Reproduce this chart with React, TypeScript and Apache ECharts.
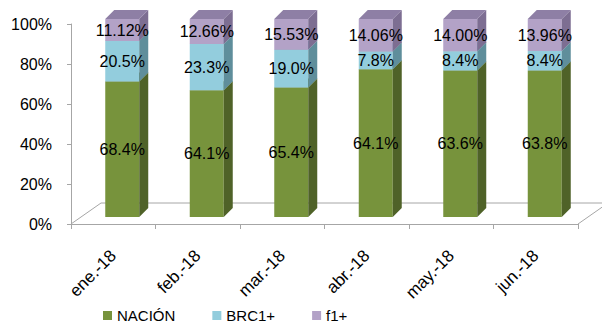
import React, { useEffect, useRef } from "react";
import * as echarts from "echarts";

const months = ["ene.-18", "feb.-18", "mar.-18", "abr.-18", "may.-18", "jun.-18"];
const nacion = [68.4, 64.1, 65.4, 64.1, 63.6, 63.8];
const brc1 = [20.5, 23.3, 19.0, 7.8, 8.4, 8.4];
const f1 = [11.12, 12.66, 15.53, 14.06, 14.0, 13.96];
const yTicks = [0, 20, 40, 60, 80, 100];

const seriesDefs = [
  { name: "NACIÓN", values: nacion, decimals: 1, front: "#77933C", side: "#4F6228", top: "#5F7A2E" },
  { name: "BRC1+", values: brc1, decimals: 1, front: "#93CDDD", side: "#5F8E9B", top: "#76A9B8" },
  { name: "f1+", values: f1, decimals: 2, front: "#B3A2C7", side: "#7D6E92", top: "#8E7FA5" },
];

const FONT = '"Liberation Sans", Arial, sans-serif';

export default function App() {
  const ref = useRef<HTMLDivElement>(null);
  useEffect(() => {
    if (!ref.current) return;
    const chart = echarts.init(ref.current, null, { renderer: "svg" });
    const totals = months.map((_, i) => seriesDefs.reduce((s, d) => s + d.values[i], 0));
    const cum = months.map(() => 0);
    const series: any[] = seriesDefs.map((def, si) => {
      const data = months.map((_, i) => {
        const pct = (def.values[i] / totals[i]) * 100;
        const start = cum[i];
        cum[i] += pct;
        return [i, start, cum[i], def.values[i].toFixed(def.decimals) + "%"];
      });
      return {
        type: "custom",
        name: def.name,
        xAxisIndex: 1,
        yAxisIndex: 1,
        itemStyle: { color: def.front },
        z: 3 + si,
        data,
        renderItem: (params: any, api: any) => {
          const ci = api.value(0);
          const s = api.value(1);
          const e = api.value(2);
          const label = data[params.dataIndex][3] as string;
          const p0 = api.coord([ci, s]);
          const p1 = api.coord([ci, e]);
          const hw = 17;
          const d = 9;
          const x0 = p0[0] - hw;
          const x1 = p0[0] + hw;
          const yb = p0[1];
          const yt = p1[1];
          return {
            type: "group",
            children: [
              { type: "rect", shape: { x: x0, y: yt, width: hw * 2, height: yb - yt }, style: { fill: def.front } },
              {
                type: "polygon",
                shape: { points: [[x1, yb], [x1 + d, yb - d], [x1 + d, yt - d], [x1, yt]] },
                style: { fill: def.side },
              },
              {
                type: "polygon",
                shape: { points: [[x0, yt], [x1, yt], [x1 + d, yt - d], [x0 + d, yt - d]] },
                style: { fill: def.top },
              },
              {
                type: "text",
                x: p0[0],
                y: (yb + yt) / 2,
                style: {
                  text: label,
                  align: "center",
                  verticalAlign: "middle",
                  fill: "#000",
                  font: `16px ${FONT}`,
                },
              },
            ],
          };
        },
      };
    });

    const lineColor = "#A6A6A6";
    chart.setOption({
      animation: false,
      grid: [
        { left: 71, right: 24, top: 24, height: 200 },
        { left: 80, right: 15, top: 19, height: 198 },
      ],
      xAxis: [
        {
          gridIndex: 0,
          type: "category",
          data: months,
          boundaryGap: true,
          axisLine: { show: true, lineStyle: { color: lineColor, width: 1 } },
          axisTick: { show: true, length: 5, lineStyle: { color: lineColor } },
          axisLabel: {
            rotate: 45,
            margin: 29,
            color: "#000",
            fontSize: 17,
            fontFamily: FONT,
          },
        },
        { gridIndex: 1, type: "category", data: months, boundaryGap: true, show: false },
      ],
      yAxis: [
        {
          gridIndex: 0,
          type: "value",
          min: 0,
          max: 100,
          interval: 20,
          axisLine: { show: true, lineStyle: { color: lineColor, width: 1 } },
          axisTick: { show: true, length: 4, lineStyle: { color: lineColor } },
          splitLine: { show: false },
          axisLabel: {
            formatter: (v: number) => (yTicks.includes(v) ? v + "%" : ""),
            margin: 19,
            color: "#000",
            fontSize: 16,
            fontFamily: FONT,
          },
        },
        { gridIndex: 1, type: "value", min: 0, max: 100, show: false },
      ],
      legend: {
        data: seriesDefs.map((d) => d.name),
        left: 103,
        top: 308,
        icon: "rect",
        itemWidth: 9,
        itemHeight: 9,
        itemGap: 37,
        textStyle: { color: "#000", fontSize: 15, fontFamily: FONT },
        padding: 0,
      },
      graphic: [
        {
          type: "polyline",
          z: 0,
          silent: true,
          shape: { points: [[71, 224], [101, 203], [610, 203]] },
          style: { stroke: lineColor, lineWidth: 1, fill: "none" },
        },
        {
          type: "line",
          z: 0,
          silent: true,
          shape: { x1: 578, y1: 224, x2: 608, y2: 203 },
          style: { stroke: lineColor, lineWidth: 1 },
        },
      ],
      series,
    });
    return () => chart.dispose();
  }, []);
  return (
    <div
      ref={ref}
      style={{ position: "absolute", left: 0, top: 0, width: 602, height: 327 }}
    />
  );
}
